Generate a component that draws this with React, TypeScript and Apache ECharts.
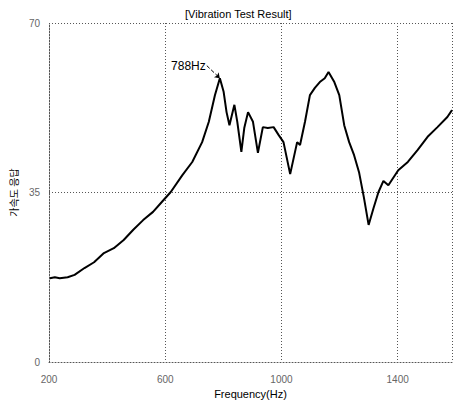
import React, { useEffect, useRef } from "react";
import * as echarts from "echarts";

const frequency = [203, 220, 237, 264, 288, 322, 355, 389, 423, 457, 490, 524, 558, 592, 619, 659, 693, 727, 750, 771, 788, 801, 811, 821, 838, 848, 862, 872, 885, 902, 919, 936, 953, 973, 990, 1007, 1030, 1054, 1064, 1081, 1098, 1115, 1132, 1149, 1162, 1182, 1199, 1216, 1233, 1250, 1267, 1284, 1300, 1317, 1334, 1351, 1368, 1402, 1435, 1469, 1503, 1537, 1571, 1587];
const response = [17.3, 17.5, 17.3, 17.5, 18.0, 19.4, 20.6, 22.5, 23.5, 25.2, 27.3, 29.3, 31.0, 33.3, 35.1, 38.6, 41.3, 45.4, 49.6, 55.1, 58.6, 55.8, 51.6, 48.9, 53.1, 49.6, 43.4, 48.3, 51.6, 49.6, 43.2, 48.5, 48.3, 48.5, 46.9, 45.4, 38.8, 45.4, 44.8, 49.6, 55.1, 56.6, 57.8, 58.6, 59.9, 57.8, 55.1, 48.9, 45.4, 42.7, 39.2, 33.9, 28.3, 31.8, 35.1, 37.4, 36.5, 39.6, 41.3, 43.8, 46.5, 48.5, 50.6, 52.0];
const xTicks = [200, 600, 1000, 1400];
const yTicks = [0, 35, 70];
const peakLabel = "788Hz";
const peakPoint = [788, 58.6];
const labelAnchor = [743, 61.2];

export default function App() {
  const ref = useRef<HTMLDivElement>(null);
  useEffect(() => {
    const chart = echarts.init(ref.current!, null, { renderer: "svg" });
    const font = "Liberation Sans, Arial, sans-serif";
    const dotted = { type: [1, 2] as any, color: "#555", width: 1 };
    chart.setOption({
      animation: false,
      backgroundColor: "#fff",
      title: {
        text: "[Vibration Test Result]",
        left: 180,
        top: 3,
        textStyle: { fontFamily: font, fontSize: 11, fontWeight: "normal", color: "#000" },
      },
      grid: { left: 44, right: 0, top: 23, bottom: 44 },
      xAxis: {
        type: "value",
        min: 200,
        max: 1587,
        interval: 400,
        name: "Frequency(Hz)",
        nameLocation: "middle",
        nameGap: 24,
        nameTextStyle: { fontFamily: font, fontSize: 11, color: "#000" },
        axisLine: { show: true, lineStyle: dotted },
        axisTick: { show: false },
        axisLabel: {
          fontFamily: font,
          fontSize: 10,
          color: "#666",
          margin: 12,
          formatter: (v: number) => (xTicks.includes(v) ? String(v) : ""),
        },
        splitLine: { show: true, lineStyle: dotted },
      },
      yAxis: {
        type: "value",
        min: 0,
        max: 70,
        interval: 35,
        name: "가속도 응답",
        nameLocation: "middle",
        nameGap: 24,
        nameTextStyle: { fontFamily: "Noto Sans CJK KR", fontSize: 10, color: "#000" },
        axisLine: { show: true, lineStyle: dotted },
        axisTick: { show: false },
        axisLabel: {
          fontFamily: font,
          fontSize: 10,
          color: "#666",
          margin: 9,
          formatter: (v: number) => (yTicks.includes(v) ? String(v) : ""),
        },
        splitLine: { show: true, lineStyle: dotted },
      },
      series: [
        {
          type: "line",
          data: frequency.map((f, i) => [f, response[i]]),
          showSymbol: false,
          symbol: "none",
          lineStyle: { color: "#000", width: 2 },
          markPoint: {
            symbol: "circle",
            symbolSize: 0,
            data: [
              {
                coord: labelAnchor,
                label: {
                  show: true,
                  formatter: peakLabel,
                  position: "left",
                  distance: 1,
                  fontFamily: font,
                  fontSize: 12,
                  color: "#000",
                },
              },
            ],
          },
          markLine: {
            silent: true,
            symbol: ["none", "arrow"],
            symbolSize: 5,
            label: { show: false },
            lineStyle: { color: "#000", type: "dashed", width: 1, curveness: -0.3 },
            data: [[{ coord: labelAnchor }, { coord: peakPoint }]],
          },
        },
      ],
    });
    return () => chart.dispose();
  }, []);
  return <div ref={ref} style={{ position: "fixed", left: 0, top: 0, width: 455, height: 406 }} />;
}
